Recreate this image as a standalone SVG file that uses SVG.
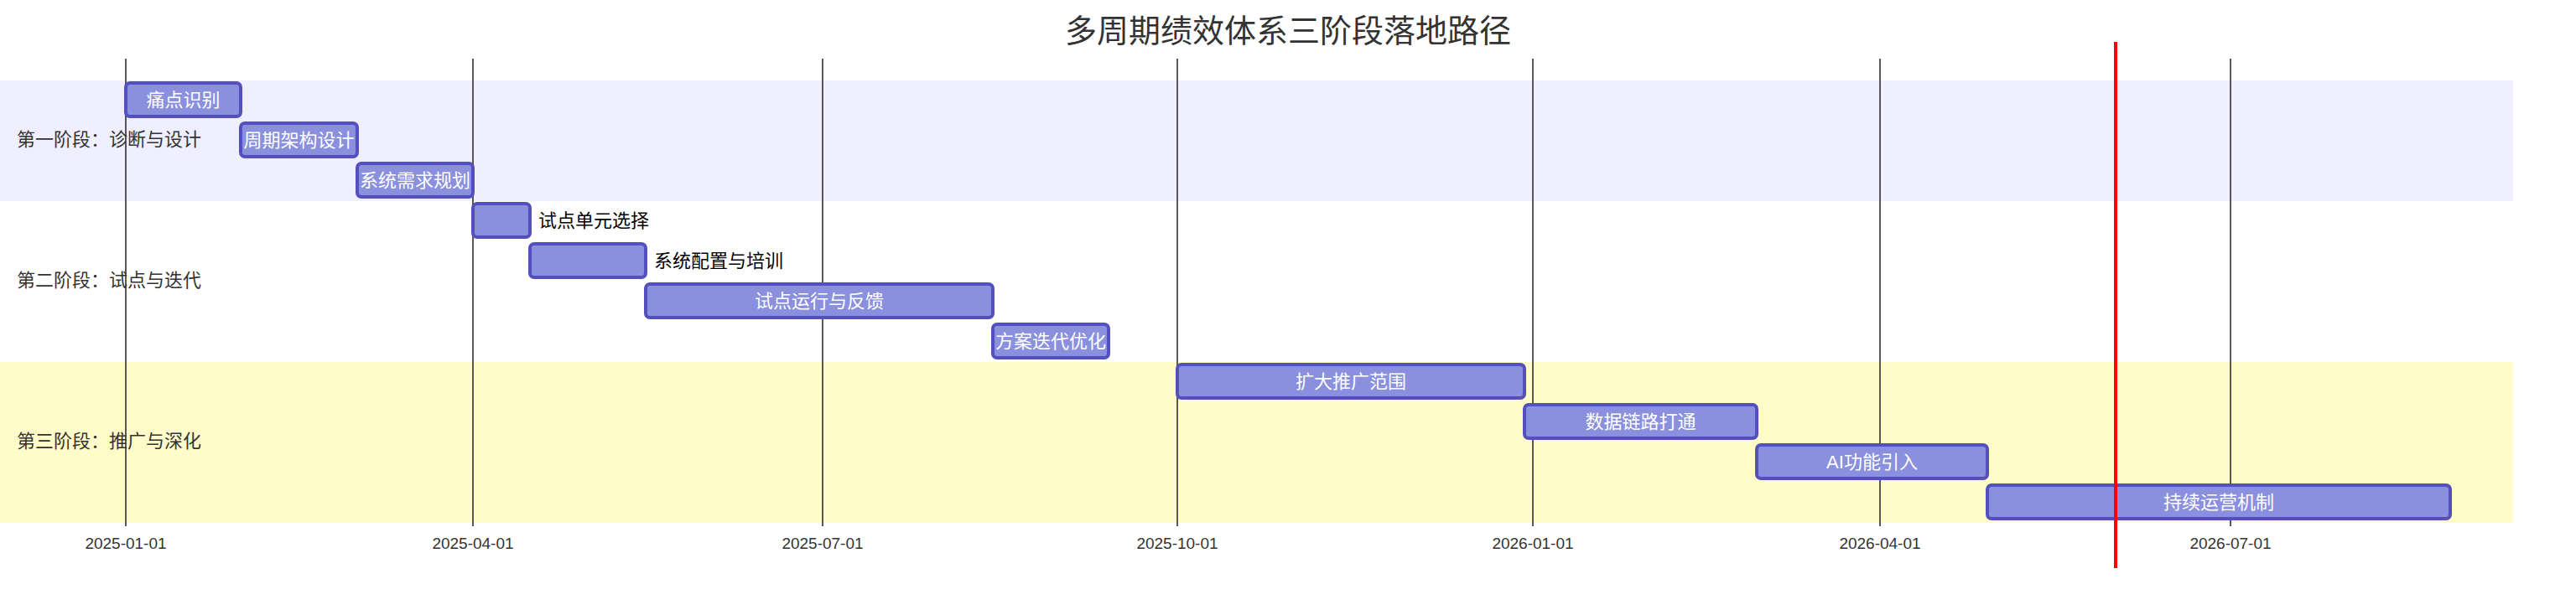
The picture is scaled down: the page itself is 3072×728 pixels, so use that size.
<svg xmlns="http://www.w3.org/2000/svg" width="3072" height="728" viewBox="0 0 3072 728">
<style>
.t{font-family:"Liberation Sans","Noto Sans CJK SC",sans-serif}
.bar{fill:#8a90dd;stroke:#534fbc;stroke-width:4}
.in{fill:#fff;font-size:22px;text-anchor:middle;dominant-baseline:central}
.out{fill:#000;font-size:22px;dominant-baseline:central}
.sec{fill:#333;font-size:22px;dominant-baseline:central}
.tick{fill:#333;font-size:19px;text-anchor:middle}
.grid{stroke:#222;stroke-width:1.5}
</style>
<rect width="3072" height="728" fill="#fff"/>
<g id="sections">
<rect x="0" y="96" width="2997" height="144" fill="#efefff"/>
<rect x="0" y="240" width="2997" height="192" fill="#fff"/>
<rect x="0" y="432" width="2997" height="192" fill="#fffcc9"/>
</g>
<g id="grid">
<line class="grid" x1="150" y1="70" x2="150" y2="628"/>
<line class="grid" x1="564" y1="70" x2="564" y2="628"/>
<line class="grid" x1="981" y1="70" x2="981" y2="628"/>
<line class="grid" x1="1404" y1="70" x2="1404" y2="628"/>
<line class="grid" x1="1828" y1="70" x2="1828" y2="628"/>
<line class="grid" x1="2242" y1="70" x2="2242" y2="628"/>
<line class="grid" x1="2660" y1="70" x2="2660" y2="628"/>
</g>
<g class="t">
<text class="tick" x="150" y="655">2025-01-01</text>
<text class="tick" x="564" y="655">2025-04-01</text>
<text class="tick" x="981" y="655">2025-07-01</text>
<text class="tick" x="1404" y="655">2025-10-01</text>
<text class="tick" x="1828" y="655">2026-01-01</text>
<text class="tick" x="2242" y="655">2026-04-01</text>
<text class="tick" x="2660" y="655">2026-07-01</text>
<text x="1536" y="50" fill="#333" font-size="38" text-anchor="middle">多周期绩效体系三阶段落地路径</text>
<text class="sec" x="20" y="166">第一阶段：诊断与设计</text>
<text class="sec" x="20" y="334">第二阶段：试点与迭代</text>
<text class="sec" x="20" y="526">第三阶段：推广与深化</text>
</g>
<g class="t">
<g id="task1"><rect class="bar" x="150" y="99" width="137" height="40" rx="5"/><text class="in" x="218.5" y="119">痛点识别</text></g>
<g id="task2"><rect class="bar" x="287" y="147" width="139" height="40" rx="5"/><text class="in" x="356.5" y="167">周期架构设计</text></g>
<g id="task3"><rect class="bar" x="426" y="195" width="138" height="40" rx="5"/><text class="in" x="495" y="215">系统需求规划</text></g>
<g id="task4"><rect class="bar" x="564" y="243" width="68" height="40" rx="5"/><text class="out" x="642" y="263">试点单元选择</text></g>
<g id="task5"><rect class="bar" x="632" y="291" width="138" height="40" rx="5"/><text class="out" x="780" y="311">系统配置与培训</text></g>
<g id="task6"><rect class="bar" x="770" y="339" width="414" height="40" rx="5"/><text class="in" x="977" y="359">试点运行与反馈</text></g>
<g id="task7"><rect class="bar" x="1184" y="387" width="138" height="40" rx="5"/><text class="in" x="1253" y="407">方案迭代优化</text></g>
<g id="task8"><rect class="bar" x="1404" y="435" width="414" height="40" rx="5"/><text class="in" x="1611" y="455">扩大推广范围</text></g>
<g id="task9"><rect class="bar" x="1818" y="483" width="277" height="40" rx="5"/><text class="in" x="1956.5" y="503">数据链路打通</text></g>
<g id="task10"><rect class="bar" x="2095" y="531" width="275" height="40" rx="5"/><text class="in" x="2232.5" y="551">AI功能引入</text></g>
<g id="task11"><rect class="bar" x="2370" y="579" width="552" height="40" rx="5"/><text class="in" x="2646" y="599">持续运营机制</text></g>
</g>
<g id="connectors">
<line x1="2523" y1="50" x2="2523" y2="678" stroke="#ff0000" stroke-width="4"/>
</g>
</svg>
